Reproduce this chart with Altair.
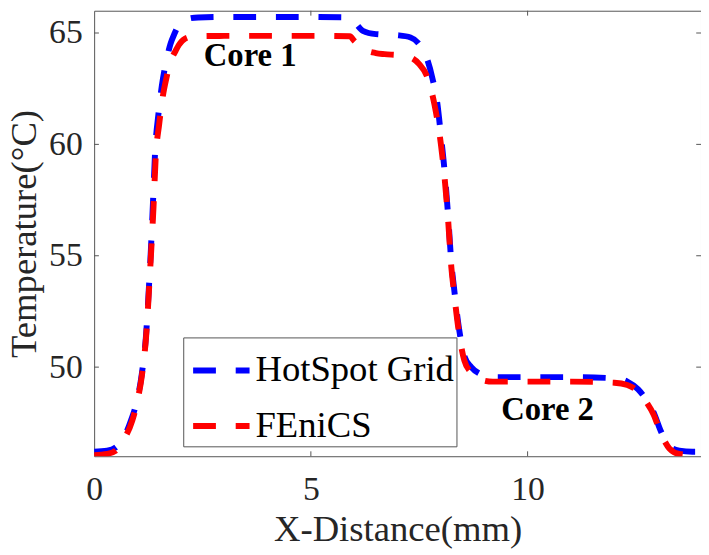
import altair as alt
import pandas as pd

# HotSpot Grid series
hs_x = [0, 0.3, 0.5, 0.7, 0.85, 1.0, 1.1, 1.2, 1.27, 1.31, 1.36, 1.41, 1.48, 1.56, 1.66, 1.76, 1.86, 1.95, 2.1, 2.4,
        3.0, 4.0, 5.0, 5.8, 6.0, 6.2, 6.5, 7.0, 7.3, 7.5, 7.65, 7.8, 7.92, 8.0, 8.08, 8.17, 8.24, 8.3, 8.42, 8.54,
        8.7, 8.9, 9.2, 10, 11, 12.0, 12.3, 12.55, 12.75, 12.9, 13.08, 13.27, 13.5, 13.8, 14.0]
hs_y = [46.2, 46.25, 46.4, 46.9, 47.6, 48.6, 49.7, 51.5, 53.8, 55.3, 57.5, 59.8, 61.3, 62.6, 63.7, 64.5, 65.0, 65.35, 65.6, 65.7,
        65.72, 65.72, 65.72, 65.7, 65.5, 65.1, 64.95, 64.9, 64.8, 64.5, 64.0, 63.0, 61.8, 60.4, 58.9, 56.7, 54.7, 53.6, 51.7, 50.5,
        50.0, 49.7, 49.55, 49.55, 49.55, 49.5, 49.35, 49.0, 48.5, 48.0, 47.1, 46.45, 46.25, 46.2, 46.2]

# FEniCS series
fe_x = [0, 0.3, 0.5, 0.7, 0.88, 1.0, 1.1, 1.2, 1.27, 1.31, 1.37, 1.42, 1.5, 1.58, 1.67, 1.78, 1.88, 1.95, 2.1, 2.3,
        3.0, 4.0, 5.0, 5.9, 6.0, 6.2, 6.5, 6.7, 7.05, 7.3, 7.5, 7.67, 7.85, 8.0, 8.08, 8.17, 8.24, 8.3, 8.42, 8.54,
        8.7, 8.9, 9.2, 10, 11, 12.0, 12.3, 12.55, 12.75, 12.9, 13.08, 13.27, 13.5, 13.8, 14.0]
fe_y = [46.05, 46.1, 46.25, 46.8, 47.6, 48.5, 49.6, 51.4, 53.6, 55.0, 57.2, 59.4, 60.9, 62.1, 63.0, 63.8, 64.2, 64.45, 64.75, 64.85,
        64.87, 64.87, 64.87, 64.85, 64.65, 64.3, 64.1, 64.05, 64.0, 63.9, 63.6, 63.1, 61.8, 60.0, 58.6, 56.5, 54.5, 53.4, 51.5, 50.3,
        49.75, 49.45, 49.35, 49.35, 49.35, 49.3, 49.2, 48.9, 48.4, 47.9, 47.0, 46.35, 46.1, 46.05, 46.05]

series_names = ["HotSpot Grid", "FEniCS"]
series_colors = ["#0000ff", "#ff0000"]

x_ticks = [0, 5, 10]
y_ticks = [50, 55, 60, 65]

notes = ["Core 1", "Core 2"]
note_x = [3.6, 10.46]
note_y = [63.95, 48.08]

X_DOM = [0, 14]
Y_DOM = [46, 66]
FONT = "Liberation Serif"

hs = pd.DataFrame({"x": hs_x, "y": hs_y, "series": series_names[0]})
fe = pd.DataFrame({"x": fe_x, "y": fe_y, "series": series_names[1]})

xs = alt.Scale(domain=X_DOM, nice=False, zero=False)
ys = alt.Scale(domain=Y_DOM, nice=False, zero=False)

xaxis = alt.Axis(values=x_ticks, title="X-Distance(mm)", grid=False, domain=False, ticks=False, labelFlush=False,
                 labelFont=FONT, labelFontSize=34, labelColor="#262626", labelPadding=17,
                 titleFont=FONT, titleFontSize=37, titleFontWeight="normal", titleColor="#262626", titlePadding=5)
yaxis = alt.Axis(values=y_ticks, title="Temperature(°C)", grid=False, domain=False, ticks=False, labelFlush=False,
                 labelFont=FONT, labelFontSize=34, labelColor="#262626", labelPadding=12,
                 titleFont=FONT, titleFontSize=37, titleFontWeight="normal", titleColor="#262626", titlePadding=5)

color = alt.Color("series:N", scale=alt.Scale(domain=series_names, range=series_colors),
                  legend=alt.Legend(title=None, symbolDash=[23, 20]))

line_kw = dict(strokeWidth=6, strokeDash=[23, 20], interpolate="monotone", clip=True)

l1 = alt.Chart(hs).mark_line(**line_kw).encode(
    x=alt.X("x:Q", scale=xs, axis=xaxis), y=alt.Y("y:Q", scale=ys, axis=yaxis), color=color)
l2 = alt.Chart(fe).mark_line(**line_kw).encode(
    x=alt.X("x:Q", scale=xs), y=alt.Y("y:Q", scale=ys), color=color)

# inward ticks (box style)
xt = pd.DataFrame({"v": x_ticks[1:]})
yt = pd.DataFrame({"v": y_ticks})
tick_style = dict(color="#555555", strokeWidth=1)
bt = alt.Chart(xt).mark_rule(**tick_style).encode(x=alt.X("v:Q", scale=xs), y=alt.datum(Y_DOM[0]), y2=alt.datum(Y_DOM[0] + 0.22))
tt = alt.Chart(xt).mark_rule(**tick_style).encode(x=alt.X("v:Q", scale=xs), y=alt.datum(Y_DOM[1]), y2=alt.datum(Y_DOM[1] - 0.22))
lt = alt.Chart(yt).mark_rule(**tick_style).encode(y=alt.Y("v:Q", scale=ys), x=alt.datum(X_DOM[0]), x2=alt.datum(X_DOM[0] + 0.11))
rt = alt.Chart(yt).mark_rule(**tick_style).encode(y=alt.Y("v:Q", scale=ys), x=alt.datum(X_DOM[1]), x2=alt.datum(X_DOM[1] - 0.11))

nd = pd.DataFrame({"t": notes, "x": note_x, "y": note_y})
txt = alt.Chart(nd).mark_text(font=FONT, fontSize=33, fontWeight="bold", color="black").encode(
    x=alt.X("x:Q", scale=xs), y=alt.Y("y:Q", scale=ys), text="t:N")

chart = alt.layer(bt, tt, lt, rt, l1, l2, txt).properties(
    width=613, height=450,
    autosize=alt.AutoSizeParams(type="none"),
    padding={"left": 87, "top": 0, "right": 0, "bottom": 95},
).configure(font=FONT).configure_view(stroke="#555555", strokeWidth=1).configure_legend(
    orient="none", legendX=90, legendY=330, direction="vertical",
    labelFont=FONT, labelFontSize=37, labelColor="black", labelLimit=400,
    symbolType="stroke", symbolSize=3249, symbolStrokeWidth=6, symbolOffset=5,
    strokeColor="#555555", fillColor="white", padding=2, rowPadding=6, labelOffset=3,
)

chart.save("out.html", embed_options={"renderer": "svg", "actions": False})
